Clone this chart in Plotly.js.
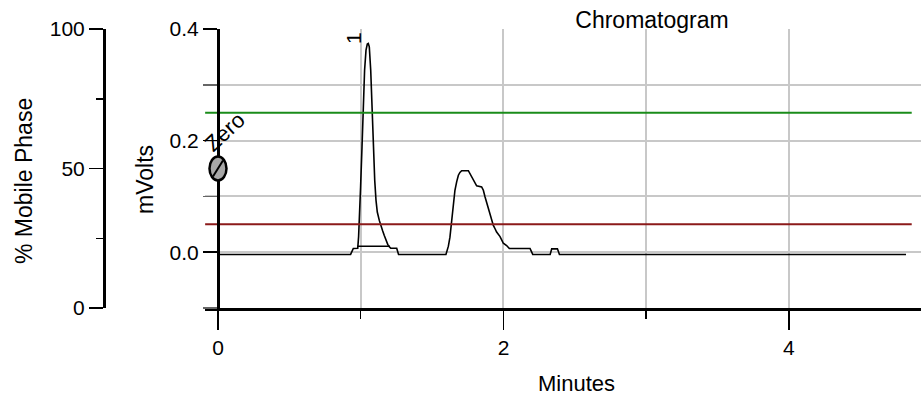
<!DOCTYPE html>
<html>
<head>
<meta charset="utf-8">
<script src="https://cdn.plot.ly/plotly-3.0.1.min.js"></script>
<style>html,body{margin:0;padding:0;background:#fff;}#chart{width:921px;height:399px;}</style>
</head>
<body>
<div id="chart"></div>
<script>
// Chromatogram signal (minutes, mVolts)
const time = [0, 0.929, 0.948, 0.979, 0.985, 0.992, 0.999, 1.009, 1.018, 1.027, 1.037, 1.046, 1.053, 1.060, 1.070, 1.079, 1.088, 1.098, 1.107, 1.116, 1.130, 1.142, 1.154, 1.165, 1.177, 1.189, 1.200, 1.210, 1.252, 1.265,
  1.597, 1.614, 1.625, 1.637, 1.649, 1.660, 1.672, 1.684, 1.695, 1.707, 1.754, 1.766, 1.777, 1.789, 1.801, 1.812, 1.847, 1.859, 1.871, 1.882, 1.894, 1.906, 1.917, 1.929, 1.941, 1.952, 1.976, 1.987, 1.999, 2.022, 2.041, 2.186, 2.205, 2.327, 2.338, 2.378, 2.392, 4.82];
const mvolts = [-0.004, -0.004, 0.0066, 0.0072, 0.0275, 0.063, 0.117, 0.189, 0.267, 0.326, 0.362, 0.373, 0.374, 0.368, 0.326, 0.261, 0.189, 0.129, 0.093, 0.072, 0.057, 0.045, 0.038, 0.030, 0.021, 0.014, 0.0096, 0.0072, 0.0072, -0.004,
  -0.004, 0.0108, 0.027, 0.057, 0.087, 0.111, 0.126, 0.138, 0.143, 0.146, 0.146, 0.140, 0.135, 0.129, 0.123, 0.119, 0.117, 0.111, 0.099, 0.090, 0.078, 0.069, 0.057, 0.048, 0.042, 0.036, 0.028, 0.021, 0.016, 0.012, 0.0066, 0.0066, -0.004, -0.004, 0.006, 0.006, -0.004, -0.004];

// Integration baseline of peak 1
const peakBaseTime = [0.976, 1.205];
const peakBaseMv = [0.0108, 0.0108];

// Mobile phase (%)
const phaseTime = [-0.09, 4.86];
const phaseA = [70, 70];
const phaseB = [30, 30];

// Peak label and zero marker
const peakLabel = {name: "1", time: 0.953, mv: 0.384};
const zeroMark = {name: "Zero", time: 0, pct: 50};

const W = 921, H = 399;
const FONT = "Liberation Sans, Arial, sans-serif";

const traces = [
  {x: phaseTime, y: phaseA, yaxis: 'y2', mode: 'lines', line: {color: '#1a8c1a', width: 2}, hoverinfo: 'skip'},
  {x: phaseTime, y: phaseB, yaxis: 'y2', mode: 'lines', line: {color: '#8b1a1a', width: 2}, hoverinfo: 'skip'},
  {x: peakBaseTime, y: peakBaseMv, mode: 'lines', line: {color: '#000', width: 1.5}},
  {x: time, y: mvolts, mode: 'lines', line: {color: '#000', width: 1.6}}
];

const grid = '#c8c8c8';
const layout = {
  width: W, height: H,
  margin: {l: 0, r: 0, t: 29, b: 91},
  showlegend: false,
  paper_bgcolor: '#fff', plot_bgcolor: '#fff',
  font: {family: FONT, size: 21, color: '#000'},
  title: {text: 'Chromatogram', font: {size: 23, color: '#000'}, x: 652 / W, xref: 'paper', xanchor: 'center', y: 1 - 20 / H, yref: 'container', yanchor: 'middle'},
  xaxis: {
    domain: [205 / W, 1], range: [-0.091, 4.925], anchor: 'y', automargin: false,
    tick0: 0, dtick: 2, ticks: 'outside', ticklen: 19, tickwidth: 1.5, tickcolor: '#000',
    showline: true, linewidth: 3, linecolor: '#000',
    showgrid: true, gridcolor: grid, gridwidth: 2, zeroline: false,
    minor: {dtick: 1, tick0: 0, ticks: 'outside', ticklen: 8, tickwidth: 1.5, tickcolor: '#000', showgrid: true, gridcolor: grid, gridwidth: 2}
  },
  yaxis: {
    range: [-0.1, 0.4], anchor: 'free', position: 218 / W, side: 'left', automargin: false,
    tick0: 0, dtick: 0.2, tickformat: '.1f', ticks: 'outside', ticklen: 14, tickwidth: 1.5, tickcolor: '#000',
    showline: true, linewidth: 3, linecolor: '#000',
    showgrid: true, gridcolor: grid, gridwidth: 2, zeroline: false,
    minor: {dtick: 0.1, tick0: 0, ticks: 'outside', ticklen: 14, tickwidth: 1.5, tickcolor: '#666', showgrid: true, gridcolor: grid, gridwidth: 2}
  },
  yaxis2: {
    range: [0, 100], overlaying: 'y', anchor: 'free', position: 104 / W, side: 'left', automargin: false,
    tick0: 0, dtick: 50, ticks: 'outside', ticklen: 14, tickwidth: 1.5, tickcolor: '#000',
    showline: true, linewidth: 2.5, linecolor: '#000', showgrid: false, zeroline: false,
    minor: {dtick: 25, tick0: 0, ticks: 'outside', ticklen: 7, tickwidth: 1.5, tickcolor: '#000', showgrid: false}
  },
  annotations: [
    {text: 'Minutes', xref: 'paper', yref: 'paper', x: 576 / W, y: (308 - 383) / 279, showarrow: false, xanchor: 'center', yanchor: 'middle', font: {size: 22}},
    {text: '% Mobile Phase', xref: 'paper', yref: 'paper', x: 24 / W, y: (308 - 181) / 279, textangle: -90, showarrow: false, xanchor: 'center', yanchor: 'middle', font: {size: 23}},
    {text: 'mVolts', xref: 'paper', yref: 'paper', x: 145 / W, y: (308 - 180) / 279, textangle: -90, showarrow: false, xanchor: 'center', yanchor: 'middle', font: {size: 23}},
    {text: peakLabel.name, x: peakLabel.time, y: peakLabel.mv, xref: 'x', yref: 'y', textangle: -90, showarrow: false, font: {size: 21}},
    {text: zeroMark.name, x: zeroMark.time, y: zeroMark.pct, xref: 'x', yref: 'y2', xshift: 7, yshift: 37, textangle: -43, showarrow: false, font: {size: 22}}
  ],
  shapes: [
    {type: 'circle', xref: 'x', yref: 'y2', xsizemode: 'pixel', ysizemode: 'pixel', xanchor: zeroMark.time, yanchor: zeroMark.pct, x0: -8.5, x1: 8.5, y0: -12, y1: 12, fillcolor: '#a8a8a8', line: {color: '#000', width: 2.5}, layer: 'above'},
    {type: 'line', xref: 'x', yref: 'y2', xsizemode: 'pixel', ysizemode: 'pixel', xanchor: zeroMark.time, yanchor: zeroMark.pct, x0: -5, x1: 5, y0: -8, y1: 8, line: {color: '#000', width: 2}, layer: 'above'}
  ]
};

Plotly.newPlot('chart', traces, layout, {staticPlot: true, displayModeBar: false});
</script>
</body>
</html>
